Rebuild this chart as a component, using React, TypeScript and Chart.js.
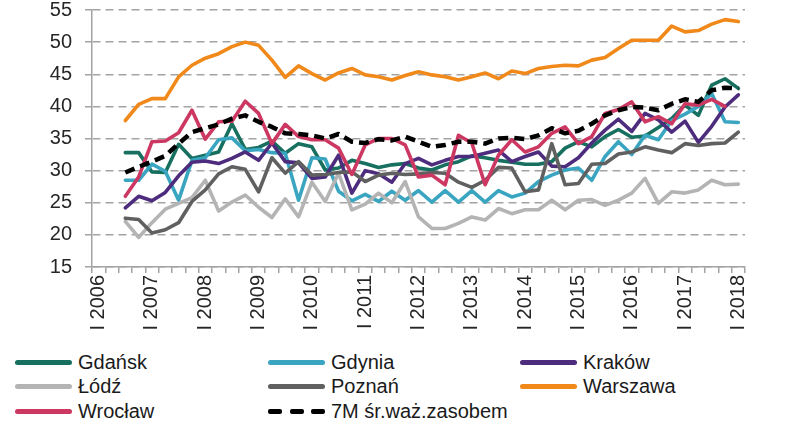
import { useEffect, useRef } from 'react'
import { Chart, registerables } from 'chart.js'
Chart.register(...registerables)

// quarters on the axis: I 2006 ... I 2018
const YEARS = [2006, 2007, 2008, 2009, 2010, 2011, 2012, 2013, 2014, 2015, 2016, 2017, 2018]
const QUARTERS = ['I', 'II', 'III', 'IV']
const categories = YEARS.flatMap((y) => QUARTERS.map((q) => `${q} ${y}`)).slice(0, 49)
const LEADING_EMPTY = 2 // series start in III 2006

const Y_TICKS = [15, 20, 25, 30, 35, 40, 45, 50, 55]

const seriesNames = ['Gdańsk', 'Gdynia', 'Kraków', 'Łódź', 'Poznań', 'Warszawa', 'Wrocław', '7M śr.waż.zasobem']

const gdansk = [32.8, 32.8, 29.8, 29.7, 34.1, 31.9, 32.4, 32.9, 37.3, 33.3,
  33.6, 34.6, 32.7, 34.2, 33.7, 30.1, 30.4, 31.6, 31.1, 30.5,
  30.9, 31.1, 30.4, 30.1, 30.9, 31.4, 32.3, 32.0, 31.6, 31.3,
  31.0, 31.0, 31.4, 33.5, 34.5, 33.7, 35.3, 36.4, 35.2, 35.4,
  36.7, 38.1, 40.2, 38.6, 43.3, 44.3, 42.8]
const gdynia = [28.5, 28.5, 31.0, 29.9, 25.4, 31.6, 32.0, 34.8, 35.1, 33.1,
  33.3, 32.8, 32.7, 25.4, 32.0, 31.8, 26.8, 25.3, 26.3, 25.2,
  26.8, 25.4, 26.9, 25.1, 26.9, 25.1, 26.9, 25.1, 26.9, 25.9,
  26.5, 28.3, 29.3, 30.1, 30.4, 28.5, 32.2, 34.5, 32.5, 35.5,
  34.8, 37.8, 38.8, 40.0, 42.0, 37.6, 37.5]
const krakow = [24.2, 26.0, 25.3, 26.6, 29.2, 31.3, 31.5, 31.1, 31.9, 32.9,
  31.6, 34.3, 31.4, 31.2, 28.8, 29.0, 32.4, 26.5, 30.0, 29.5,
  28.2, 31.1, 31.9, 30.9, 31.6, 32.2, 32.2, 32.7, 33.2, 31.4,
  32.2, 32.9, 30.7, 30.6, 32.0, 34.3, 36.3, 38.0, 36.1, 38.9,
  37.9, 36.0, 37.7, 34.4, 36.9, 39.9, 41.8]
const lodz = [22.1, 19.6, 21.9, 24.0, 24.9, 25.8, 28.5, 23.7, 25.1, 26.2,
  24.3, 22.7, 25.6, 22.8, 28.2, 25.2, 29.6, 23.9, 24.8, 26.5,
  25.0, 28.3, 22.8, 21.0, 21.0, 21.8, 22.8, 22.3, 24.1, 23.3,
  23.9, 23.9, 25.4, 23.9, 25.4, 25.5, 24.6, 25.4, 26.5, 28.8,
  24.9, 26.7, 26.5, 27.0, 28.5, 27.8, 27.9]
const poznan = [22.6, 22.4, 20.3, 20.8, 21.9, 25.2, 27.0, 29.5, 30.6, 30.2,
  26.7, 32.0, 29.6, 31.4, 29.3, 29.4, 29.7, 29.8, 28.3, 29.3,
  29.6, 29.4, 29.5, 29.7, 29.6, 28.2, 27.4, 28.5, 30.5, 30.4,
  26.7, 27.0, 34.2, 27.8, 28.0, 31.0, 31.1, 32.6, 32.9, 33.7,
  33.2, 32.8, 34.2, 33.9, 34.2, 34.3, 36.0]
const warszawa = [37.8, 40.3, 41.2, 41.2, 44.6, 46.4, 47.5, 48.2, 49.3, 50.0,
  49.5, 47.2, 44.5, 46.3, 45.1, 44.1, 45.2, 45.9, 44.9, 44.6,
  44.1, 44.8, 45.4, 44.9, 44.6, 44.1, 44.6, 45.2, 44.3, 45.5,
  45.1, 45.9, 46.2, 46.4, 46.3, 47.2, 47.6, 49.0, 50.3, 50.3,
  50.3, 52.5, 51.6, 51.8, 52.8, 53.5, 53.2]
const wroclaw = [26.0, 29.0, 34.5, 34.6, 35.9, 39.4, 34.9, 37.6, 37.7, 40.8,
  38.9, 34.2, 37.2, 35.3, 34.8, 34.8, 33.5, 29.4, 34.0, 35.0,
  35.0, 34.0, 29.0, 29.3, 27.8, 35.5, 34.3, 27.8, 32.4, 34.8,
  32.9, 33.7, 35.8, 36.8, 34.2, 35.3, 38.9, 39.5, 40.7, 37.6,
  38.4, 37.3, 40.4, 40.2, 41.1, 40.0, null]
const avg7m = [29.7, 30.6, 31.4, 32.3, 34.2, 36.0, 36.6, 37.2, 38.1, 38.6,
  37.6, 36.8, 35.8, 35.7, 35.5, 35.0, 35.7, 34.5, 34.3, 34.9,
  34.7, 35.3, 34.5, 33.7, 34.0, 34.5, 34.5, 34.2, 35.0, 35.1,
  34.9, 35.5, 36.6, 35.8, 36.2, 37.3, 38.6, 39.4, 39.9, 39.8,
  39.4, 40.4, 41.1, 40.7, 42.5, 42.9, 42.8]

const seriesValues = [gdansk, gdynia, krakow, lodz, poznan, warszawa, wroclaw, avg7m]
const seriesColors = ['#17705f', '#3aa5c0', '#4d2c7e', '#b4b4b4', '#606060', '#f0891a', '#cd3862', '#000000']

const FONT = "'Liberation Sans', Arial, sans-serif"
const GRID = '#a3a3a3'

const pad = (vals: (number | null)[]) => [...Array(LEADING_EMPTY).fill(null), ...vals]

const Legend = () => {
  const cols = [15, 268, 520]
  const rows = [362, 386, 411]
  return (
    <>
      {seriesNames.map((name, i) => {
        const left = cols[i % 3]
        const top = rows[Math.floor(i / 3)]
        const dashed = i === seriesNames.length - 1
        return (
          <div key={name} style={{ position: 'absolute', left, top: top - 12, height: 24, display: 'flex', alignItems: 'center' }}>
            {dashed ? (
              <div style={{ width: 57, display: 'flex', justifyContent: 'space-between' }}>
                {[0, 1, 2].map((k) => (
                  <div key={k} style={{ width: 14, height: 5, borderRadius: 2, background: '#000' }} />
                ))}
              </div>
            ) : (
              <div style={{ width: 57, height: 5, borderRadius: 3, background: seriesColors[i] }} />
            )}
            <span style={{ marginLeft: 6, fontFamily: FONT, fontSize: 20, color: '#1a1a1a', whiteSpace: 'nowrap' }}>{name}</span>
          </div>
        )
      })}
    </>
  )
}

const App = () => {
  const canvas = useRef<HTMLCanvasElement>(null)

  useEffect(() => {
    const ctx = canvas.current
    if (!ctx) return
    const chart = new Chart(ctx, {
      type: 'line',
      data: {
        labels: categories,
        datasets: seriesNames.map((name, i) => {
          const dashed = i === seriesNames.length - 1
          return {
            label: name,
            data: pad(seriesValues[i]),
            borderColor: seriesColors[i],
            backgroundColor: seriesColors[i],
            borderWidth: dashed ? 4.5 : 3.6,
            borderDash: dashed ? [10, 6] : [],
            borderJoinStyle: 'round' as const,
            borderCapStyle: dashed ? ('butt' as const) : ('round' as const),
            pointRadius: 0,
            tension: 0,
            spanGaps: false,
            order: seriesNames.length - i,
          }
        }),
      },
      options: {
        animation: false,
        responsive: true,
        maintainAspectRatio: false,
        layout: { padding: { top: 10, right: 41, bottom: 0, left: 0 } },
        plugins: { legend: { display: false }, tooltip: { enabled: false } },
        scales: {
          x: {
            type: 'category',
            offset: true,
            grid: { display: true, offset: true, drawOnChartArea: false, drawTicks: true, tickLength: 6, color: GRID, lineWidth: 1.5 },
            border: { display: true, color: GRID, width: 1.5 },
            ticks: {
              autoSkip: false,
              minRotation: 90,
              maxRotation: 90,
              padding: 2,
              color: '#262626',
              font: { family: FONT, size: 20 },
              callback: (_v, idx) => (idx % 4 === 0 ? categories[idx] : ''),
            },
            afterFit: (scale) => {
              scale.height = 78
              scale.paddingLeft = 0
              scale.paddingRight = 0
            },
          },
          y: {
            min: 15,
            max: 55,
            afterBuildTicks: (scale) => {
              scale.ticks = Y_TICKS.map((v) => ({ value: v }))
            },
            grid: { color: GRID, lineWidth: 1.5, tickLength: 7, tickColor: GRID, tickWidth: 1.5 },
            border: { display: true, color: GRID, width: 1.5, dash: [8, 5] },
            ticks: { padding: 13, color: '#262626', font: { family: FONT, size: 20 } },
            afterFit: (scale) => {
              scale.width = 92
              scale.paddingTop = 0
              scale.paddingBottom = 0
            },
          },
        },
      },
    })
    return () => chart.destroy()
  }, [])

  return (
    <div style={{ position: 'absolute', left: 0, top: 0, width: 786, height: 435, background: '#fff' }}>
      <div style={{ position: 'absolute', left: 0, top: 0, width: 786, height: 345 }}>
        <canvas ref={canvas}></canvas>
      </div>
      <Legend />
    </div>
  )
}

export default App
